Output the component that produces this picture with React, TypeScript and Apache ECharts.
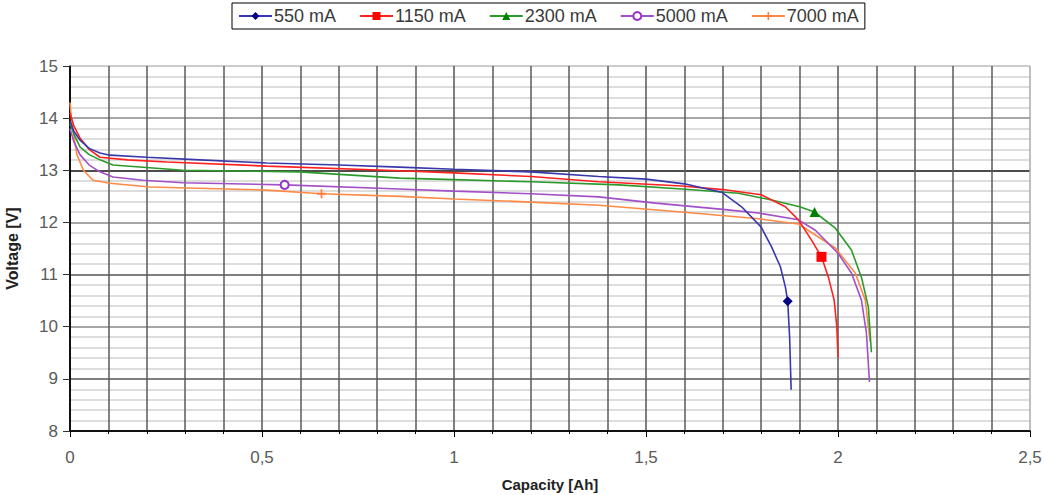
import React, { useEffect, useRef } from "react";
import * as echarts from "echarts";

const seriesNames = ["550 mA", "1150 mA", "2300 mA", "5000 mA", "7000 mA"];

const data550: number[][] = [
  [0, 13.95], [0.01, 13.75], [0.026, 13.58], [0.05, 13.42], [0.078, 13.33], [0.104, 13.29],
  [0.2, 13.25], [0.338, 13.2], [0.512, 13.14], [0.7, 13.1], [0.858, 13.06], [1.0, 13.02],
  [1.2, 12.97], [1.377, 12.88], [1.5, 12.83], [1.6, 12.74], [1.697, 12.58], [1.749, 12.3],
  [1.8, 11.91], [1.827, 11.53], [1.85, 11.15], [1.863, 10.76], [1.869, 10.49], [1.874, 9.8],
  [1.878, 8.79],
];
const data1150: number[][] = [
  [0, 14.1], [0.01, 13.85], [0.026, 13.62], [0.05, 13.4], [0.078, 13.25], [0.15, 13.2],
  [0.252, 13.16], [0.512, 13.08], [0.858, 12.99], [1.0, 12.95], [1.2, 12.88], [1.377, 12.78],
  [1.593, 12.7], [1.7, 12.63], [1.8, 12.53], [1.863, 12.3], [1.897, 12.05], [1.931, 11.66],
  [1.957, 11.34], [1.975, 10.95], [1.99, 10.51], [1.997, 9.99], [2.0, 9.42],
];
const data2300: number[][] = [
  [0, 13.9], [0.01, 13.7], [0.026, 13.45], [0.05, 13.3], [0.078, 13.2], [0.112, 13.1],
  [0.294, 13.0], [0.598, 12.97], [0.858, 12.85], [1.0, 12.82], [1.2, 12.78], [1.429, 12.72],
  [1.593, 12.64], [1.741, 12.56], [1.827, 12.43], [1.9, 12.3], [1.939, 12.2], [1.993, 11.89],
  [2.035, 11.47], [2.061, 10.95], [2.079, 10.38], [2.087, 9.51],
];
const data5000: number[][] = [
  [0, 13.8], [0.01, 13.55], [0.026, 13.3], [0.05, 13.1], [0.078, 12.97], [0.112, 12.87],
  [0.19, 12.81], [0.294, 12.76], [0.559, 12.72], [0.858, 12.64], [1.0, 12.6], [1.2, 12.55],
  [1.377, 12.49], [1.525, 12.37], [1.7, 12.25], [1.793, 12.18], [1.897, 12.05], [1.941, 11.85],
  [2.0, 11.41], [2.035, 11.03], [2.061, 10.51], [2.074, 9.88], [2.082, 8.94],
];
const data7000: number[][] = [
  [0, 14.3], [0.005, 13.9], [0.018, 13.3], [0.035, 13.0], [0.06, 12.81], [0.104, 12.75],
  [0.208, 12.68], [0.512, 12.62], [0.655, 12.55], [0.858, 12.5], [1.0, 12.45], [1.2, 12.39],
  [1.377, 12.33], [1.593, 12.2], [1.793, 12.07], [1.897, 11.97], [1.993, 11.51], [2.045, 11.03],
  [2.071, 10.51], [2.084, 9.71],
];

const markerIndex = [22, 18, 16, 8, 8];
const lineColors = ["#3838ac", "#ff2020", "#2a9a2a", "#a24fc8", "#ff8a45"];
const markerColors = ["#000080", "#ff0000", "#008000", "#9933cc", "#ff8040"];
const symbols = [
  "diamond",
  "rect",
  "triangle",
  "emptyCircle",
  "path://M4,0H6V4H10V6H6V10H4V6H0V4H4Z",
];
const symbolSizes = [10, 10, 10, 8, 9];

const xTicks = [0, 0.5, 1, 1.5, 2, 2.5];
const yTicks = [8, 9, 10, 11, 12, 13, 14, 15];

export default function App() {
  const ref = useRef<HTMLDivElement>(null);
  useEffect(() => {
    if (!ref.current) return;
    const chart = echarts.init(ref.current, null, { renderer: "svg" });
    const allData = [data550, data1150, data2300, data5000, data7000];
    const font = "'Liberation Sans', Arial, sans-serif";
    const series = allData.map((d, s) => ({
      name: seriesNames[s],
      type: "line",
      data: d.map((p, i) =>
        i === markerIndex[s] ? { value: p } : { value: p, symbol: "none" }
      ),
      symbol: symbols[s],
      symbolSize: symbolSizes[s],
      showSymbol: true,
      showAllSymbol: true,
      lineStyle: { color: lineColors[s], width: 1.6 },
      itemStyle: {
        color: markerColors[s],
        borderColor: markerColors[s],
        borderWidth: s === 3 ? 1.5 : 0,
      },
      emphasis: { disabled: true },
      z: 10 - s,
    }));
    chart.setOption({
      animation: false,
      textStyle: { fontFamily: font },
      legend: {
        data: seriesNames,
        left: 232,
        top: 3,
        padding: [4, 6],
        itemGap: 23,
        itemWidth: 33,
        itemHeight: 10,
        borderColor: "#000",
        borderWidth: 1,
        backgroundColor: "#fff",
        textStyle: { fontSize: 18, color: "#3a3a3a", fontFamily: font, padding: [0, 0, 0, -3] },
      },
      grid: {
        left: 70,
        right: 14,
        top: 66,
        bottom: 64,
        containLabel: false,
        outerBoundsMode: "none",
      },
      xAxis: {
        type: "value",
        min: xTicks[0],
        max: xTicks[xTicks.length - 1],
        interval: 0.5,
        name: "Capacity [Ah]",
        nameLocation: "middle",
        nameGap: 46,
        nameTextStyle: { fontSize: 15, fontWeight: "bold", color: "#222", verticalAlign: "top" },
        axisLine: { show: true, onZero: false, lineStyle: { color: "#000", width: 1.5 } },
        axisTick: { show: true, length: 6, lineStyle: { color: "#000" } },
        minorTick: { show: true, splitNumber: 5, length: 3, lineStyle: { color: "#000" } },
        axisLabel: {
          fontSize: 17,
          color: "#5a5a5a",
          margin: 18,
          formatter: (v: number) => String(v).replace(".", ","),
        },
        splitLine: {
          show: true,
          lineStyle: { color: ["#000", "#555", "#555", "#555", "#555", "#aaa"], width: 1.5 },
        },
        minorSplitLine: { show: true, lineStyle: { color: "#5a5a5a", width: 1.5 } },
      },
      yAxis: {
        type: "value",
        min: yTicks[0],
        max: yTicks[yTicks.length - 1],
        interval: 1,
        name: "Voltage [V]",
        nameLocation: "middle",
        nameGap: 50,
        nameTextStyle: { fontSize: 16, fontWeight: "bold", color: "#222" },
        axisLine: { show: true, onZero: false, lineStyle: { color: "#000", width: 1.5 } },
        axisTick: { show: true, length: 7, lineStyle: { color: "#333" } },
        minorTick: { show: false, splitNumber: 5 },
        axisLabel: { fontSize: 17, color: "#5a5a5a", margin: 12 },
        splitLine: {
          show: true,
          lineStyle: {
            color: ["#000", "#555", "#888", "#555", "#888", "#111", "#888", "#bbb"],
            width: 1.5,
          },
        },
        minorSplitLine: { show: true, lineStyle: { color: "#d2d2d2", width: 1.5 } },
      },
      series,
    });
    return () => chart.dispose();
  }, []);
  return (
    <div
      ref={ref}
      style={{ position: "absolute", left: 0, top: 0, width: 1044, height: 495, background: "#fff" }}
    />
  );
}
